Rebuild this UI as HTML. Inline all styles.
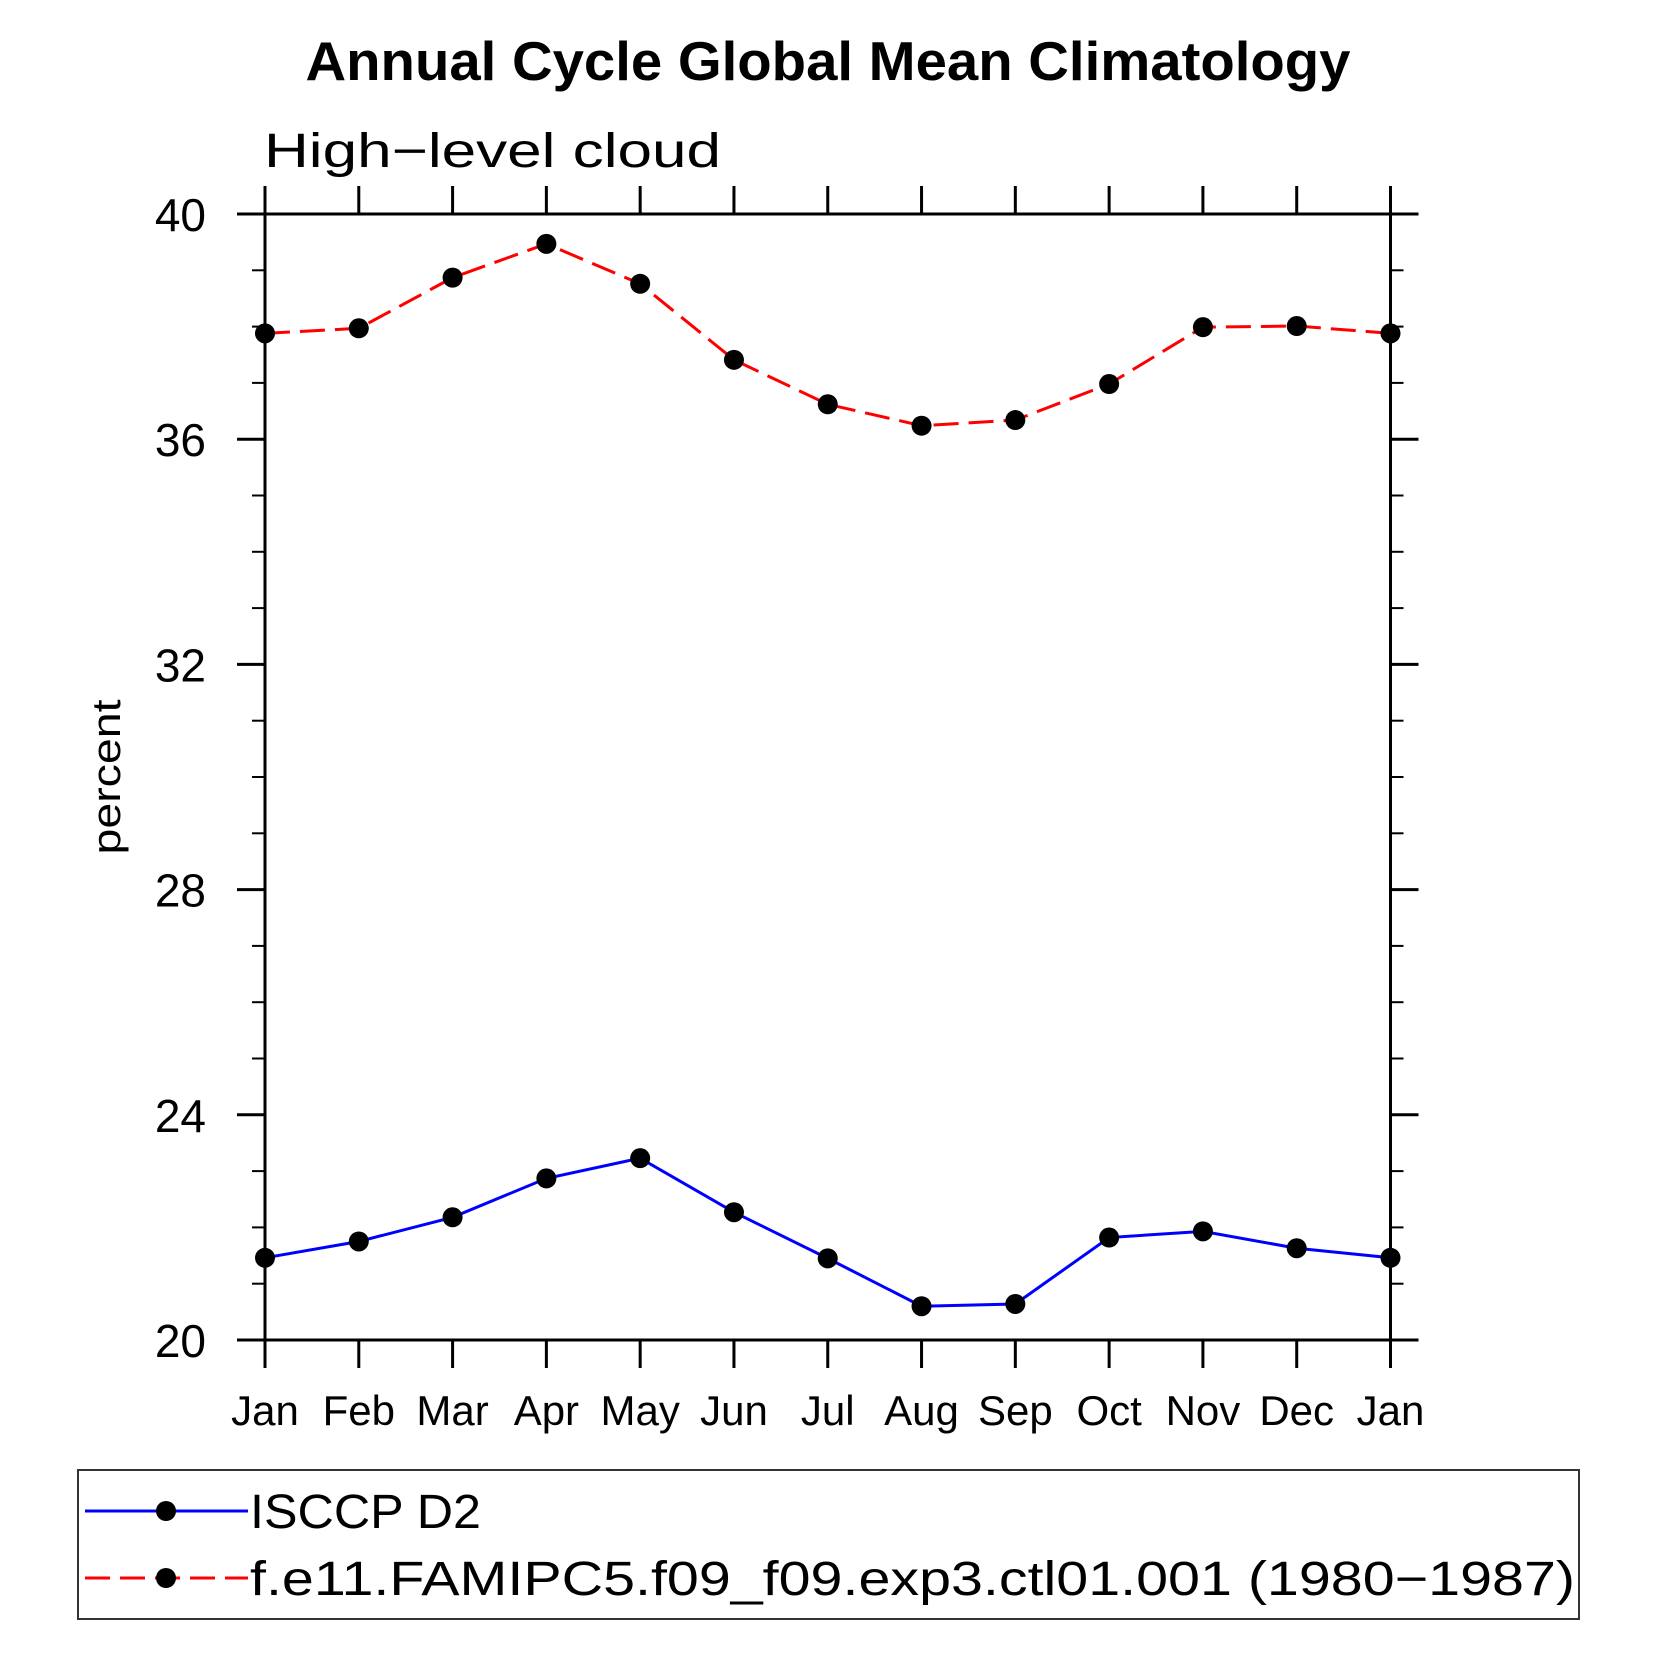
<!DOCTYPE html>
<html><head><meta charset="utf-8"><style>html,body{margin:0;padding:0;background:#fff}svg{display:block}text{font-family:"Liberation Sans",sans-serif}</style></head>
<body>
<svg id="chart" width="1658" height="1658" viewBox="0 0 1658 1658" xmlns="http://www.w3.org/2000/svg">
<text x="828" y="80" text-anchor="middle" font-size="55" font-weight="bold" textLength="1045" lengthAdjust="spacingAndGlyphs">Annual Cycle Global Mean Climatology</text>
<text x="264" y="167" font-size="48" font-weight="300" textLength="457" lengthAdjust="spacingAndGlyphs">High−level cloud</text>
<text transform="translate(120,777) rotate(-90)" text-anchor="middle" font-size="40" textLength="155" lengthAdjust="spacingAndGlyphs">percent</text>
<g id="axes"></g>
<g id="series"></g>
<rect x="78" y="1470" width="1501" height="149" fill="none" stroke="#333" stroke-width="2"/>
<g>
<line x1="85" y1="1511" x2="248" y2="1511" stroke="#0000ff" stroke-width="3"/>
<circle cx="166" cy="1511" r="10"/>
<text x="250" y="1528" font-size="48" textLength="231" lengthAdjust="spacingAndGlyphs">ISCCP D2</text>
</g>
<g>
<line x1="85" y1="1578" x2="248" y2="1578" stroke="#ff0000" stroke-width="3" stroke-dasharray="25 10"/>
<circle cx="166" cy="1578" r="10"/>
<text x="250" y="1595" font-size="48" textLength="1325" lengthAdjust="spacingAndGlyphs">f.e11.FAMIPC5.f09_f09.exp3.ctl01.001 (1980−1987)</text>
</g>
</svg>
<script>
const months = ["Jan","Feb","Mar","Apr","May","Jun","Jul","Aug","Sep","Oct","Nov","Dec","Jan"];
const isccp = [21.46,21.75,22.18,22.87,23.23,22.27,21.45,20.60,20.64,21.82,21.93,21.63,21.46];
const model = [37.88,37.97,38.87,39.47,38.76,37.41,36.62,36.24,36.34,36.98,37.99,38.01,37.88];
const yTicks = [20,24,28,32,36,40];
const NS='http://www.w3.org/2000/svg';
const L=265,R=1390.5,T=214,B=1340,YMIN=20,YMAX=40;
function xs(i){return L+(R-L)*i/(months.length-1);}
function ys(v){return B-(B-T)*(v-YMIN)/(YMAX-YMIN);}
function mk(tag,attrs,parent){const e=document.createElementNS(NS,tag);for(const k in attrs)e.setAttribute(k,attrs[k]);parent.appendChild(e);return e;}
const ax=document.getElementById('axes');
let fr=mk('rect',{x:L,y:T,width:R-L,height:B-T,fill:'none',stroke:'#000','stroke-width':3},ax);


months.forEach((m,i)=>{
  const x=xs(i);
  let t=mk('line',{x1:x,y1:B,x2:x,y2:B+28,stroke:'#000','stroke-width':3},ax);
  
  
  let t2=mk('line',{x1:x,y1:T,x2:x,y2:T-28,stroke:'#000','stroke-width':3},ax);
  
  
  let lb=mk('text',{x:x,y:1425,'text-anchor':'middle','font-size':42},ax);
  lb.textContent=m;
  
  
});
for(let v=YMIN;v<=YMAX;v++){
  const y=ys(v);const major=yTicks.includes(v);const len=major?28:13;
  let a=mk('line',{x1:L-len,y1:y,x2:L,y2:y,stroke:'#000','stroke-width':major?3:2},ax);
  
  
  let b=mk('line',{x1:R,y1:y,x2:R+len,y2:y,stroke:'#000','stroke-width':major?3:2},ax);
  
  
}
yTicks.forEach(v=>{
  let lb=mk('text',{x:206,y:ys(v)+17,'text-anchor':'end','font-size':46},ax);
  lb.textContent=String(v);
  
  
});
const sg=document.getElementById('series');
function drawSeries(vals,color,dash,name){
  const pts=vals.map((v,i)=>xs(i)+','+ys(v)).join(' ');
  const attrs={points:pts,fill:'none',stroke:color,'stroke-width':3};
  if(dash)attrs['stroke-dasharray']=dash;
  let pl=mk('polyline',attrs,sg);
  
  
  vals.forEach((v,i)=>{
    let c=mk('circle',{cx:xs(i),cy:ys(v),r:10,fill:'#000'},sg);
    
    
  });
}
drawSeries(isccp,'#0000ff',null,'isccp');
drawSeries(model,'#ff0000','25 10','model');
</script>
</body></html>
